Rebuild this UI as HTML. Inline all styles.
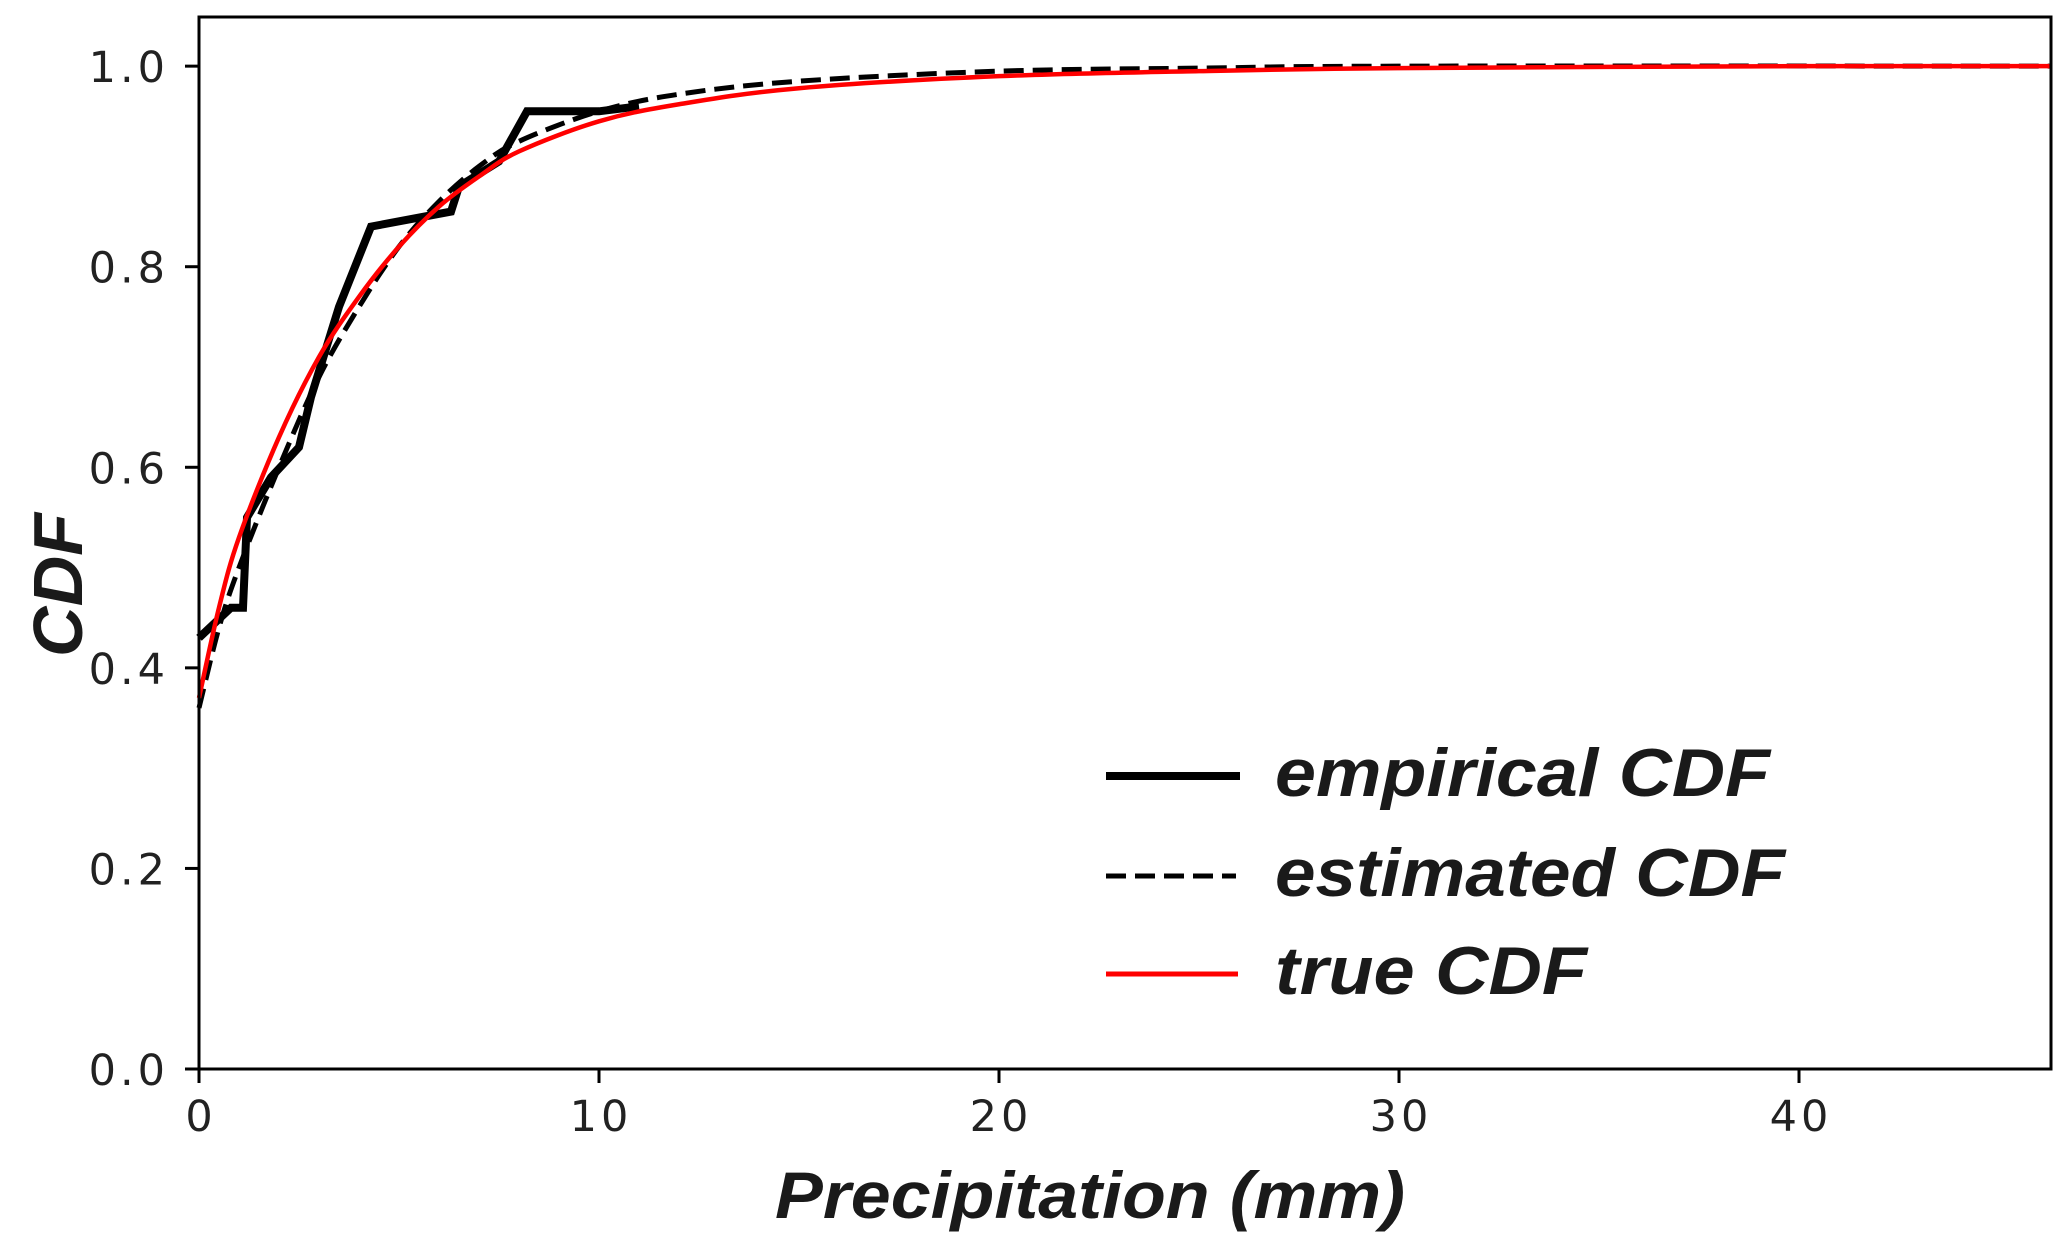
<!DOCTYPE html>
<html><head><meta charset="utf-8"><style>
html,body{margin:0;padding:0;background:#fff;}
svg{display:block;}
.tick{font-family:"DejaVu Sans","Liberation Sans",sans-serif;font-size:43px;letter-spacing:4px;fill:#222;}
.lab{font-family:"Liberation Sans",sans-serif;font-weight:bold;font-style:italic;fill:#1a1a1a;}
</style></head><body>
<svg id="chart" width="2067" height="1240" viewBox="0 0 2067 1240" xmlns="http://www.w3.org/2000/svg">
<g id="plot"></g>
<g id="axes"></g>
<text class="lab" x="1090" y="1218" font-size="66" text-anchor="middle" textLength="630" lengthAdjust="spacingAndGlyphs">Precipitation (mm)</text>
<text class="lab" transform="translate(82,585) rotate(-90)" font-size="70" text-anchor="middle">CDF</text>
<g>
<line x1="1106" y1="776" x2="1240" y2="776" stroke="#000" stroke-width="8"/>
<text class="lab" x="1275" y="796" font-size="68" textLength="495" lengthAdjust="spacingAndGlyphs">empirical CDF</text>
<line x1="1106" y1="876" x2="1236" y2="876" stroke="#000" stroke-width="5" stroke-dasharray="20,9"/>
<text class="lab" x="1275" y="896" font-size="68" textLength="510" lengthAdjust="spacingAndGlyphs">estimated CDF</text>
<line x1="1106" y1="974" x2="1238" y2="974" stroke="#f00" stroke-width="5"/>
<text class="lab" x="1275" y="994" font-size="68" textLength="312" lengthAdjust="spacingAndGlyphs">true CDF</text>
</g>
</svg>
<script>
const empX=[0,0.8,1.1,1.2,1.8,2.5,2.8,3.5,4.3,6.3,6.5,7.5,8.2,10,11];
const empY=[0.43,0.46,0.46,0.55,0.59,0.62,0.67,0.76,0.84,0.855,0.88,0.905,0.955,0.955,0.96];
const estX=[0,0.5,1,2,3,4,5,6,7,8,10,12,15,20,25,30,46.3];
const estY=[0.36,0.44,0.5,0.6,0.69,0.76,0.82,0.865,0.9,0.925,0.955,0.972,0.985,0.995,0.998,1.0,1.0];
const truX=[0,0.5,1,2,3,4,5,6,7,8,10,12,15,20,25,30,40,46.3];
const truY=[0.37,0.46,0.53,0.63,0.71,0.77,0.82,0.86,0.89,0.915,0.945,0.962,0.978,0.99,0.995,0.998,1.0,1.0];
const xTicks=[0,10,20,30,40];
const yTicks=[0,0.2,0.4,0.6,0.8,1.0];
const L=199,R=2051,T=17,B=1069,XMAX=46.3,YMAX=1.049;
const sx=v=>L+v/XMAX*(R-L);
const sy=v=>B-v/YMAX*(B-T);
const NS='http://www.w3.org/2000/svg';
const plot=document.getElementById('plot'),axes=document.getElementById('axes');
function mk(tag,attrs,parent){const e=document.createElementNS(NS,tag);for(const k in attrs)e.setAttribute(k,attrs[k]);parent.appendChild(e);return e;}
function pts(xs,ys){return xs.map((x,i)=>sx(x).toFixed(1)+','+sy(ys[i]).toFixed(1)).join(' ');}
function smooth(xs,ys){let d='M'+sx(xs[0])+','+sy(ys[0]);for(let i=0;i<xs.length-1;i++){const x0=xs[Math.max(i-1,0)],y0=ys[Math.max(i-1,0)],x1=xs[i],y1=ys[i],x2=xs[i+1],y2=ys[i+1],x3=xs[Math.min(i+2,xs.length-1)],y3=ys[Math.min(i+2,ys.length-1)];
const c1x=sx(x1)+(sx(x2)-sx(x0))/6,c1y=sy(y1)+(sy(y2)-sy(y0))/6,c2x=sx(x2)-(sx(x3)-sx(x1))/6,c2y=sy(y2)-(sy(y3)-sy(y1))/6;
d+=' C'+c1x+','+c1y+' '+c2x+','+c2y+' '+sx(x2)+','+sy(y2);}return d;}
const e=mk('polyline',{points:pts(empX,empY),fill:'none',stroke:'#000','stroke-width':8,'stroke-linejoin':'miter'},plot);


const s=mk('path',{d:smooth(estX,estY),fill:'none',stroke:'#000','stroke-width':5,'stroke-dasharray':'20,9'},plot);


const t=mk('path',{d:smooth(truX,truY),fill:'none',stroke:'#f00','stroke-width':4.5},plot);


const fr=mk('rect',{x:L,y:T,width:R-L,height:B-T,fill:'none',stroke:'#000','stroke-width':3},axes);


xTicks.forEach(v=>{const tk=mk('line',{x1:sx(v),x2:sx(v),y1:B,y2:B+14,stroke:'#000','stroke-width':3},axes);


const tx=mk('text',{x:sx(v)+2,y:B+62,'text-anchor':'middle',class:'tick'},axes);tx.textContent=v;

});
yTicks.forEach(v=>{const tk=mk('line',{x1:L-14,x2:L,y1:sy(v),y2:sy(v),stroke:'#000','stroke-width':3},axes);


const tx=mk('text',{x:L-30,y:sy(v)+16,'text-anchor':'end',class:'tick'},axes);tx.textContent=v.toFixed(1);

});
</script>
</body></html>
